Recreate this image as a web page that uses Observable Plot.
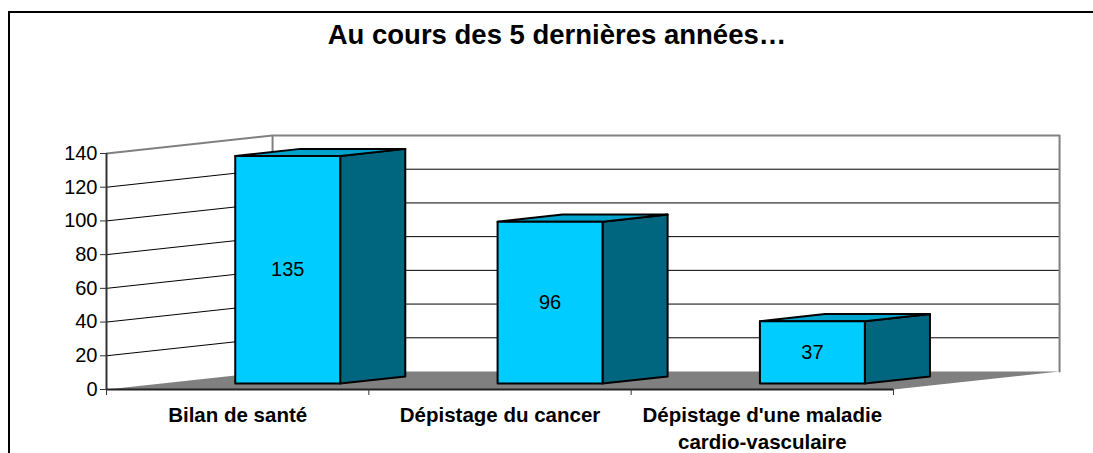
<!DOCTYPE html>
<html>
<head>
<meta charset="utf-8">
<script src="https://cdn.jsdelivr.net/npm/d3@7"></script>
<script src="https://cdn.jsdelivr.net/npm/@observablehq/plot@0.6"></script>
<style>
  html, body { margin: 0; padding: 0; background: #fff; overflow: hidden; }
  #wrap { position: relative; width: 1093px; height: 453px; overflow: hidden; font-family: 'Liberation Sans', Arial, sans-serif; }
  #bTop { position: absolute; left: 8px; top: 11px; width: 1085px; height: 2px; background: #000; }
  #bLeft { position: absolute; left: 8px; top: 11px; width: 2px; height: 442px; background: #000; }
  #title { position: absolute; left: 557px; top: 21px; transform: translateX(-50%); white-space: nowrap; font-weight: bold; font-size: 27.5px; line-height: 28px; color: #000; }
  #chart { position: absolute; left: 0; top: 0; }
</style>
</head>
<body>
<div id="wrap">
  <div id="bTop"></div>
  <div id="bLeft"></div>
  <div id="chart"></div>
  <div id="title"></div>
</div>
<script>
const title = "Au cours des 5 dernières années…";
const categories = ["Bilan de santé", "Dépistage du cancer", "Dépistage d'une maladie cardio-vasculaire"];
const values = [135, 96, 37];
const yTicks = [0, 20, 40, 60, 80, 100, 120, 140];

document.getElementById("title").textContent = title;

// oblique depth vector (data units) from front plane to back wall
const OX = 0.633, OY = 10.68;
// bar placement within a category (floor plane) and depth range
const A = 0.28, B = 0.68, F = 0.333, G = 0.725;
const yMax = yTicks[yTicks.length - 1];
const n = categories.length;

const P = (id, x, y, d) => ({id, x: x + d * OX, y: y + d * OY});

const front = [], side = [], topF = [];
values.forEach((v, i) => {
  const x0 = i + A, x1 = i + B;
  front.push(P(i, x0, 0, F), P(i, x1, 0, F), P(i, x1, v, F), P(i, x0, v, F));
  side.push(P(i, x1, 0, F), P(i, x1, 0, G), P(i, x1, v, G), P(i, x1, v, F));
  topF.push(P(i, x0, v, F), P(i, x1, v, F), P(i, x1, v, G), P(i, x0, v, G));
});
const floor = [P(0, 0, 0, 0), P(0, n, 0, 0), P(0, n, 0, 1), P(0, 0, 0, 1)];
const wallEdge = [P(0, 0, yMax, 0), P(0, 0, yMax, 1), P(0, n, yMax, 1), P(0, n, 0, 1)];
const inner = yTicks.filter(t => t > 0 && t < yMax);

const chart = Plot.plot({
  width: 1093,
  height: 453,
  marginLeft: 106,
  marginRight: 200,
  marginTop: 153,
  marginBottom: 64,
  style: {fontFamily: "'Liberation Sans', Arial, sans-serif", fontSize: "20px", background: "transparent", overflow: "visible", color: "#000"},
  x: {domain: [0, n]},
  y: {domain: [0, yMax]},
  marks: [
    // floor
    Plot.line(floor, {x: "x", y: "y", z: "id", curve: "linear-closed", fill: "#808080", stroke: "none"}),
    // back wall gridlines
    Plot.link(inner, {x1: OX, x2: n + OX, y1: t => t + OY, y2: t => t + OY, stroke: "#000", strokeWidth: 1}),
    // side wall gridlines
    Plot.link(inner, {x1: 0, x2: OX, y1: t => t, y2: t => t + OY, stroke: "#000", strokeWidth: 1}),
    // wall edges
    Plot.line(wallEdge, {x: "x", y: "y", stroke: "#808080", strokeWidth: 2}),
    Plot.link([0], {x1: OX, x2: OX, y1: OY, y2: yMax + OY, stroke: "#808080", strokeWidth: 2}),
    // axes lines
    Plot.ruleX([0], {y1: 0, y2: yMax, stroke: "#333", strokeWidth: 2}),
    Plot.ruleY([0], {x1: 0, x2: n, stroke: "#222", strokeWidth: 2}),
    Plot.axisY({ticks: yTicks, tickSize: 6, tickPadding: 3, fontSize: 20, label: null, stroke: "#333"}),
    Plot.axisX({ticks: d3.range(n + 1), tickSize: 6, tickFormat: () => "", label: null, stroke: "#333"}),
    // bars
    Plot.line(side, {x: "x", y: "y", z: "id", curve: "linear-closed", fill: "#006680", stroke: "#000", strokeWidth: 2, strokeLinejoin: "round"}),
    Plot.line(topF, {x: "x", y: "y", z: "id", curve: "linear-closed", fill: "#00A3CC", stroke: "#000", strokeWidth: 2, strokeLinejoin: "round"}),
    Plot.line(front, {x: "x", y: "y", z: "id", curve: "linear-closed", fill: "#00CCFF", stroke: "#000", strokeWidth: 2, strokeLinejoin: "round"}),
    // value labels
    Plot.text(values, {x: (v, i) => i + (A + B) / 2 + F * OX, y: v => v / 2 + F * OY, text: v => String(v), fontSize: 20, fill: "#000"}),
    // category labels
    Plot.text(categories, {x: (d, i) => i + 0.5, y: 0, text: d => d, dy: 14, lineAnchor: "top", fontWeight: "bold", fontSize: 20.5, lineWidth: 12.5, lineHeight: 1.3, fill: "#000"})
  ]
});
document.getElementById("chart").appendChild(chart);
</script>
</body>
</html>
